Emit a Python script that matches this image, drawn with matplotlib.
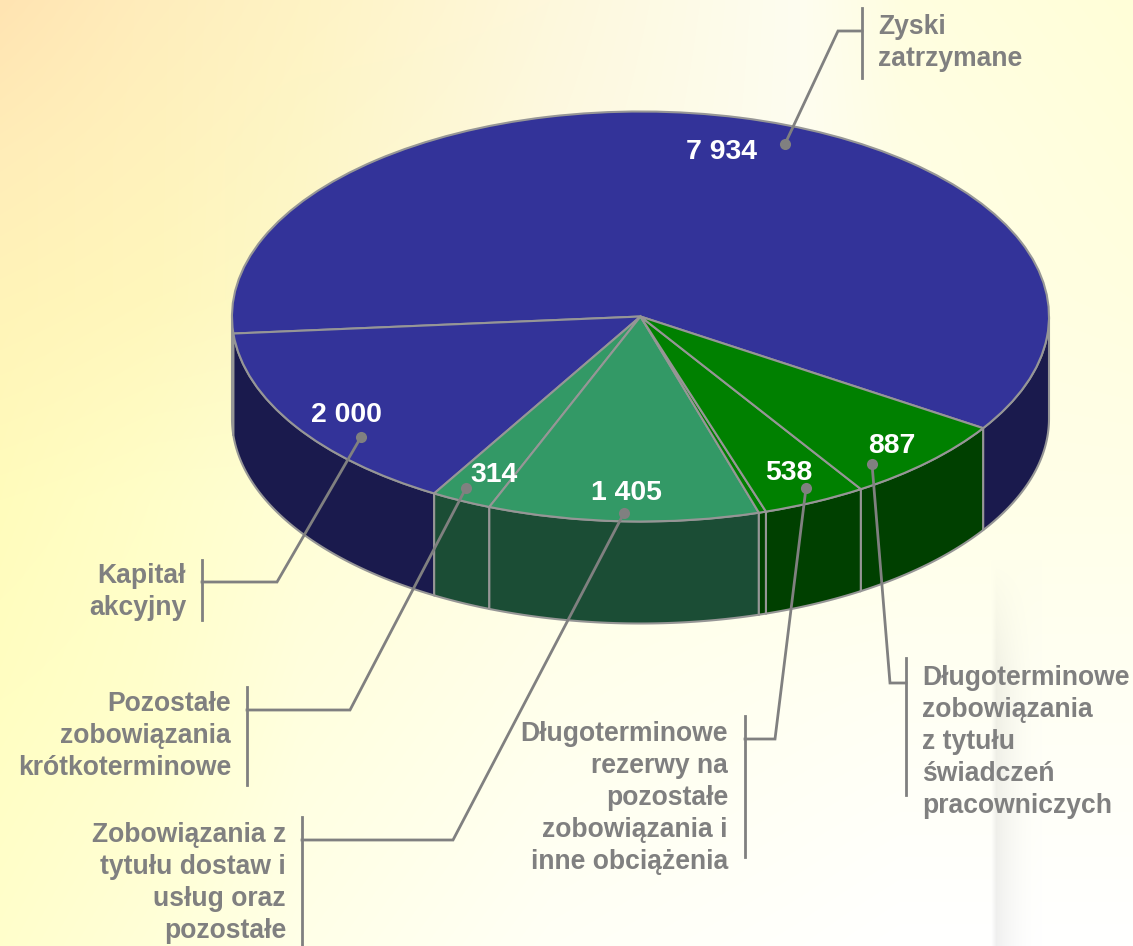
import numpy as np
import matplotlib
matplotlib.use("Agg")
import matplotlib.pyplot as plt
from matplotlib.colors import to_rgb

plt.rcParams["font.family"] = ["Liberation Sans", "DejaVu Sans"]

# pie data, counter clockwise from the right hand edge of the big slice
values = [7934, 2000, 314, 1405, 38, 538, 887]
value_labels = ["7 934", "2 000", "314", "1 405", "", "538", "887"]
top_colors = ["#333399", "#333399", "#339966", "#339966", "#008000", "#008000", "#008000"]
side_colors = ["#1A1A4D", "#1A1A4D", "#1B4D35", "#1B4D35", "#004000", "#004000", "#004000"]
label_pos = [(721, 152), (346, 415), (494, 475), (626, 493), None, (789, 473), (892, 446)]

# legend blocks: text lines, side, text x, first line y, leader line points, bar y range
names = [
    ["Zyski", "zatrzymane"],
    ["Kapitał", "akcyjny"],
    ["Pozostałe", "zobowiązania", "krótkoterminowe"],
    ["Zobowiązania z", "tytułu dostaw i", "usług oraz", "pozostałe"],
    ["Długoterminowe", "rezerwy na", "pozostałe", "zobowiązania i", "inne obciążenia"],
    ["Długoterminowe", "zobowiązania", "z tytułu", "świadczeń", "pracowniczych"],
]
name_ha = ["left", "right", "right", "right", "right", "left"]
name_x = [878, 186, 231, 286, 728, 922]
name_y = [27, 576, 704, 835, 734, 678]
leaders = [
    [(785, 144), (838, 31), (862, 31)],
    [(361, 437), (277, 582), (202, 582)],
    [(466, 488), (350, 710), (247, 710)],
    [(624, 513), (453, 840), (302, 840)],
    [(806, 488), (775, 739), (745, 739)],
    [(872, 464), (890, 683), (906, 683)],
]
bars = [(8, 78), (560, 620), (687, 785), (817, 946), (716, 857), (658, 795)]

# background colours read at a few places
bg_x = [0, 150, 300, 550, 800, 900, 1133]
bg_y = [0, 150, 300, 500, 700, 946]
bg_colors = [
    ["#FFE4B2", "#FFEDBC", "#FFF3C4", "#FEF8DC", "#FEFDF0", "#FFFEE0", "#FFFFD8"],
    ["#FFEDB8", "#FFF2BC", "#FDF6C6", "#FDF9E0", "#FEFDF0", "#FFFEE4", "#FFFFDC"],
    ["#FFF4B8", "#FFF7BC", "#FDF9C8", "#FEFBDC", "#FEFDE8", "#FFFEE4", "#FFFFE0"],
    ["#FFFCBC", "#FFFEC8", "#FFFED6", "#FFFFE4", "#FFFFE8", "#FFFFE8", "#FFFFE8"],
    ["#FFFEC2", "#FFFFCC", "#FFFFDE", "#FFFFEC", "#FFFFF2", "#FFFFF4", "#FFFFF4"],
    ["#FFFFCC", "#FFFFD8", "#FFFFE8", "#FFFFF6", "#FFFFFC", "#FFFFFF", "#FFFFFF"],
]

W, H = 1133, 946
cx, cy, rx, ry, depth = 640.5, 316.5, 408.5, 205, 102
edge = "#969696"
grey = "#808080"


def to_x(px):
    return (px - cx) / rx


def to_y(py):
    return (cy - py) / ry


fig = plt.figure(figsize=(W / 100, H / 100), dpi=100)
ax = fig.add_axes([0, 0, 1, 1])

# -------------------------------
# Background
# -------------------------------

grid = np.array([[to_rgb(c) for c in row] for row in bg_colors])
xx = np.arange(W)
yy = np.arange(H)
by_col = np.stack([[np.interp(xx, bg_x, grid[j, :, k]) for k in range(3)] for j in range(len(bg_y))])
img = np.zeros((H, W, 3))
for k in range(3):
    for i in range(W):
        img[:, i, k] = np.interp(yy, bg_y, by_col[:, k, i])
# soft grey band on the right, only lower down
band = np.clip((xx - 991) / 5, 0, 1) * np.clip((1042 - xx) / 46, 0, 1) ** 2 * 0.06
fade = np.clip((yy - 560) / 120, 0, 1)
img *= 1 - np.outer(fade, band)[:, :, None]

ax.imshow(img, extent=(to_x(0), to_x(W), to_y(H), to_y(0)), aspect="auto", zorder=0)

# -------------------------------
# Pie
# -------------------------------

shares = np.array(values) / sum(values) * 360
start = -33.0
starts = start + np.concatenate([[0], np.cumsum(shares)[:-1]])
ends = starts + shares

for s, e, col in zip(starts, ends, side_colors):
    for lo, hi in [(-180, 0), (180, 360)]:
        a, b = max(s, lo), min(e, hi)
        if a >= b:
            continue
        t = np.radians(np.linspace(a, b, 120))
        xs = np.cos(t)
        ys = np.sin(t)
        ax.fill(np.r_[xs, xs[::-1]], np.r_[ys, ys[::-1] - depth / ry], facecolor=col,
                edgecolor=edge, linewidth=1.5, zorder=2)

wedges, _ = ax.pie(values, startangle=start, counterclock=True, colors=top_colors,
                   wedgeprops={"edgecolor": edge, "linewidth": 1.5, "zorder": 3})

ax.set_aspect("auto")
ax.set_xlim(to_x(0), to_x(W))
ax.set_ylim(to_y(H), to_y(0))
ax.axis("off")

# -------------------------------
# Leader lines and labels
# -------------------------------

for pts, (b0, b1) in zip(leaders, bars):
    px = [to_x(p[0]) for p in pts]
    py = [to_y(p[1]) for p in pts]
    ax.plot(px, py, color=grey, lw=2.0, zorder=5, solid_joinstyle="miter")
    ax.plot(px[0], py[0], "o", color=grey, ms=8, mew=0, zorder=5)
    ax.plot([px[-1], px[-1]], [to_y(b0), to_y(b1)], color=grey, lw=2.0, zorder=5)

for lab, pos in zip(value_labels, label_pos):
    if pos is None:
        continue
    ax.text(to_x(pos[0]), to_y(pos[1]), lab, color="white", fontsize=20.4, fontweight="bold",
            ha="center", va="center", zorder=6)

for lines, ha, x, y0 in zip(names, name_ha, name_x, name_y):
    for i, line in enumerate(lines):
        ax.text(to_x(x), to_y(y0 + i * 32), line, color=grey, fontsize=19.1, fontweight="bold",
                ha=ha, va="center", zorder=6)

fig.savefig("out.png", dpi=100)
